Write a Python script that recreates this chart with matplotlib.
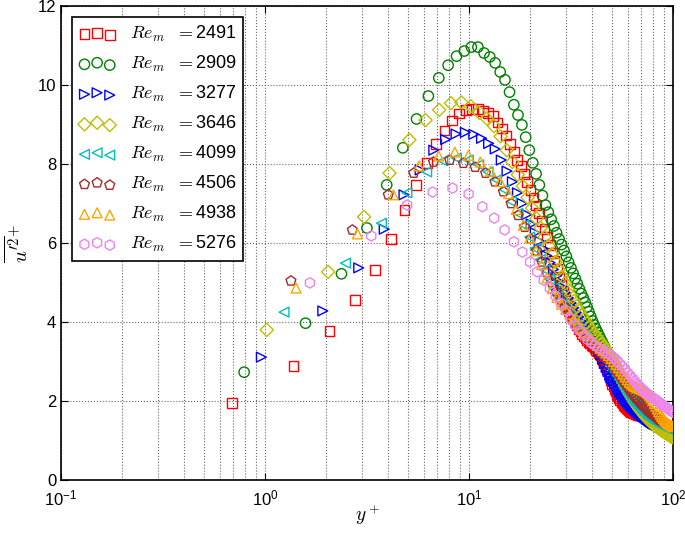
import numpy as np
import matplotlib
matplotlib.use("Agg")
import matplotlib.pyplot as plt
import matplotlib.ticker as ticker

plt.rcParams['font.family'] = ['Liberation Sans', 'DejaVu Sans']
plt.rcParams['mathtext.fontset'] = 'cm'

# Re_m of each case and wall-normal grid step in wall units (uniform grid)
re_m = [2491, 2909, 3277, 3646, 4099, 4506, 4938, 5276]
dy_plus = [0.69, 0.79, 0.96, 1.02, 1.24, 1.34, 1.42, 1.66]

u2_2491 = [1.95, 2.89, 3.77, 4.56, 5.32, 6.10, 6.84, 7.47, 8.03, 8.50,
           8.85, 9.10, 9.28, 9.37, 9.40, 9.40, 9.35, 9.30, 9.22, 9.05,
           8.90, 8.72, 8.50, 8.30, 8.10, 7.95, 7.75, 7.55, 7.35, 7.15,
           6.95, 6.75, 6.55, 6.35, 6.15, 5.95, 5.75, 5.55, 5.35, 5.15,
           4.95, 4.78, 4.62, 4.48, 4.35, 4.22, 4.10, 4.00, 3.91, 3.83,
           3.76, 3.70, 3.64, 3.59, 3.54, 3.50, 3.46, 3.42, 3.38, 3.34,
           3.30, 3.26, 3.21, 3.16, 3.10, 3.03, 2.96, 2.88, 2.80, 2.72,
           2.60, 2.52, 2.44, 2.37, 2.30, 2.24, 2.18, 2.12, 2.07, 2.02,
           1.98, 1.94, 1.90, 1.87, 1.84, 1.81, 1.79, 1.77, 1.75, 1.73,
           1.72, 1.71, 1.70, 1.69, 1.68, 1.67, 1.66, 1.65, 1.65, 1.64]
u2_2909 = [2.73, 3.97, 5.22, 6.38, 7.47, 8.41, 9.14, 9.72, 10.18, 10.50,
           10.73, 10.86, 10.96, 10.96, 10.81, 10.71, 10.56, 10.33, 10.13, 9.82,
           9.50, 9.24, 8.99, 8.68, 8.35, 8.03, 7.75, 7.47, 7.20, 6.96,
           6.78, 6.60, 6.43, 6.26, 6.10, 5.96, 5.81, 5.66, 5.51, 5.37,
           5.23, 5.10, 4.97, 4.84, 4.72, 4.61, 4.50, 4.38, 4.26, 4.14,
           4.03, 3.93, 3.83, 3.74, 3.65, 3.57, 3.49, 3.41, 3.33, 3.25,
           3.16, 3.07, 2.98, 2.89, 2.80, 2.71, 2.63, 2.55, 2.47, 2.40,
           2.33, 2.27, 2.21, 2.15, 2.10, 2.05, 2.00, 1.96, 1.92, 1.88,
           1.84, 1.81, 1.78, 1.75, 1.72, 1.69, 1.66, 1.63, 1.61, 1.59,
           1.57, 1.55, 1.53, 1.51, 1.49, 1.47, 1.45, 1.43, 1.42, 1.40]
u2_3277 = [3.11, 4.28, 5.37, 6.35, 7.22, 7.85, 8.35, 8.62, 8.76, 8.80,
           8.75, 8.65, 8.52, 8.38, 8.10, 7.82, 7.55, 7.27, 7.00, 6.72,
           6.48, 6.26, 6.05, 5.86, 5.68, 5.50, 5.33, 5.17, 5.02, 4.88,
           4.74, 4.61, 4.48, 4.36, 4.24, 4.13, 4.02, 3.92, 3.82, 3.72,
           3.63, 3.54, 3.45, 3.36, 3.27, 3.17, 3.06, 2.95, 2.85, 2.75,
           2.65, 2.57, 2.50, 2.43, 2.36, 2.29, 2.23, 2.17, 2.12, 2.07,
           2.02, 1.98, 1.94, 1.90, 1.86, 1.83, 1.80, 1.77, 1.74, 1.71,
           1.68, 1.66, 1.63, 1.61, 1.59, 1.57, 1.55, 1.53, 1.51, 1.49,
           1.47, 1.46, 1.44, 1.43, 1.41, 1.40, 1.38, 1.37, 1.35, 1.34,
           1.32, 1.31, 1.30, 1.28, 1.27, 1.26, 1.25, 1.24, 1.23, 1.22]
u2_3646 = [3.80, 5.27, 6.66, 7.77, 8.61, 9.11, 9.37, 9.54, 9.56, 9.46,
           9.30, 9.15, 8.96, 8.70, 8.35, 8.05, 7.73, 7.44, 7.15, 6.88,
           6.62, 6.38, 6.15, 5.93, 5.72, 5.52, 5.33, 5.15, 4.98, 4.82,
           4.67, 4.53, 4.40, 4.28, 4.17, 4.07, 3.97, 3.88, 3.80, 3.72,
           3.65, 3.58, 3.51, 3.44, 3.37, 3.30, 3.23, 3.16, 3.08, 3.00,
           2.91, 2.82, 2.73, 2.64, 2.55, 2.47, 2.39, 2.32, 2.25, 2.18,
           2.12, 2.06, 2.00, 1.95, 1.90, 1.85, 1.80, 1.76, 1.72, 1.68,
           1.64, 1.60, 1.57, 1.54, 1.51, 1.48, 1.45, 1.42, 1.40, 1.38,
           1.36, 1.34, 1.32, 1.30, 1.28, 1.26, 1.24, 1.22, 1.21, 1.19,
           1.18, 1.16, 1.15, 1.13, 1.12, 1.10, 1.09, 1.08]
u2_4099 = [4.25, 5.49, 6.50, 7.27, 7.80, 8.08, 8.15, 8.10, 7.98, 7.80,
           7.60, 7.35, 7.05, 6.75, 6.45, 6.15, 5.86, 5.58, 5.32, 5.08,
           4.86, 4.66, 4.48, 4.31, 4.16, 4.02, 3.90, 3.79, 3.69, 3.60,
           3.52, 3.44, 3.37, 3.30, 3.24, 3.18, 3.12, 3.05, 2.98, 2.90,
           2.82, 2.73, 2.64, 2.55, 2.46, 2.38, 2.30, 2.22, 2.15, 2.08,
           2.02, 1.96, 1.91, 1.86, 1.81, 1.77, 1.73, 1.69, 1.65, 1.62,
           1.59, 1.56, 1.53, 1.50, 1.48, 1.46, 1.44, 1.42, 1.40, 1.38,
           1.36, 1.35, 1.33, 1.32, 1.31, 1.30, 1.29, 1.28, 1.27, 1.26,
           1.25]
u2_4506 = [5.04, 6.33, 7.22, 7.77, 8.05, 8.10, 8.02, 7.92, 7.77, 7.55,
           7.30, 7.00, 6.70, 6.40, 6.10, 5.80, 5.52, 5.25, 5.00, 4.77,
           4.56, 4.37, 4.20, 4.05, 3.92, 3.80, 3.69, 3.59, 3.50, 3.42,
           3.35, 3.28, 3.22, 3.16, 3.10, 3.03, 2.96, 2.88, 2.80, 2.72,
           2.64, 2.56, 2.48, 2.40, 2.33, 2.26, 2.20, 2.14, 2.08, 2.03,
           1.98, 1.93, 1.89, 1.85, 1.81, 1.77, 1.73, 1.70, 1.67, 1.64,
           1.61, 1.58, 1.55, 1.52, 1.50, 1.48, 1.46, 1.44, 1.42, 1.40,
           1.38, 1.36, 1.35, 1.34, 1.33]
u2_4938 = [4.86, 6.23, 7.22, 7.95, 8.20, 8.30, 8.22, 8.05, 7.82, 7.55,
           7.25, 6.85, 6.45, 6.12, 5.80, 5.45, 5.12, 4.85, 4.62, 4.45,
           4.32, 4.20, 4.07, 3.95, 3.84, 3.74, 3.65, 3.56, 3.48, 3.41,
           3.34, 3.28, 3.22, 3.15, 3.08, 3.00, 2.92, 2.84, 2.76, 2.68,
           2.61, 2.54, 2.48, 2.43, 2.39, 2.36, 2.34, 2.32, 2.30, 2.28,
           2.26, 2.23, 2.19, 2.14, 2.08, 2.01, 1.94, 1.87, 1.80, 1.73,
           1.67, 1.61, 1.56, 1.52, 1.48, 1.45, 1.42, 1.40, 1.38, 1.36,
           1.35]
u2_5276 = [4.99, 6.18, 6.96, 7.29, 7.39, 7.24, 6.92, 6.63, 6.33, 6.03,
           5.77, 5.52, 5.27, 5.06, 4.86, 4.66, 4.47, 4.29, 4.08, 3.91,
           3.78, 3.66, 3.55, 3.47, 3.41, 3.35, 3.30, 3.25, 3.20, 3.15,
           3.09, 3.02, 2.95, 2.88, 2.80, 2.72, 2.65, 2.58, 2.51, 2.44,
           2.38, 2.33, 2.28, 2.23, 2.19, 2.15, 2.11, 2.08, 2.05, 2.02,
           1.98, 1.95, 1.92, 1.89, 1.86, 1.83, 1.80, 1.77, 1.74, 1.72,
           1.70]

profiles = [u2_2491, u2_2909, u2_3277, u2_3646, u2_4099, u2_4506, u2_4938, u2_5276]
markers = ['s', 'o', '>', 'D', '<', 'p', '^', 'h']
colors = ['#ff0000', '#008000', '#0000ff', '#bfbf00', '#00bfbf', '#a52a2a', '#ffa500', '#ee82ee']
sizes = [50, 55, 50, 45, 50, 55, 50, 55]

fig = plt.figure(figsize=(6.85, 5.33), dpi=100)
ax = fig.add_axes([61 / 685, 53 / 533, 612 / 685, 474 / 533])

for re, dy, prof, m, c, s in zip(re_m, dy_plus, profiles, markers, colors, sizes):
    yp = dy * np.arange(1, len(prof) + 1)
    ax.scatter(yp, prof, s=s, marker=m, facecolors='none', edgecolors=c,
               linewidths=1.0, label=r'$Re_m\ \ =$' + str(re), zorder=3)

ax.set_xscale('log')
ax.set_xlim(0.1, 100)
ax.set_ylim(0, 12)
ax.set_yticks(np.arange(0, 13, 2))
ax.xaxis.set_major_formatter(ticker.LogFormatterMathtext())
ax.xaxis.set_minor_formatter(ticker.NullFormatter())

ax.grid(True, which='major', axis='both', linestyle=':', color='#666666', linewidth=0.8)
ax.grid(True, which='minor', axis='x', linestyle=':', color='#666666', linewidth=0.8)
ax.set_axisbelow(True)

ax.tick_params(which='both', direction='in', top=True, right=True, labelsize=12)
ax.tick_params(which='major', length=5)
ax.tick_params(axis='x', which='major', pad=6)
ax.tick_params(which='minor', length=0)
for sp in ax.spines.values():
    sp.set_linewidth(1.2)

ax.set_xlabel(r'$y^+$', fontsize=14)
ax.xaxis.set_label_coords(0.5, -0.048)
ax.set_ylabel(r"$\overline{u^{\prime 2}}^{+}$", fontsize=15)

leg = ax.legend(loc='upper left', scatterpoints=3, fontsize=13, frameon=True,
                fancybox=False, edgecolor='black', framealpha=1,
                borderaxespad=0.6, labelspacing=0.55, handletextpad=0.8)
leg.get_frame().set_linewidth(1.2)

fig.savefig('out.png', dpi=100)
